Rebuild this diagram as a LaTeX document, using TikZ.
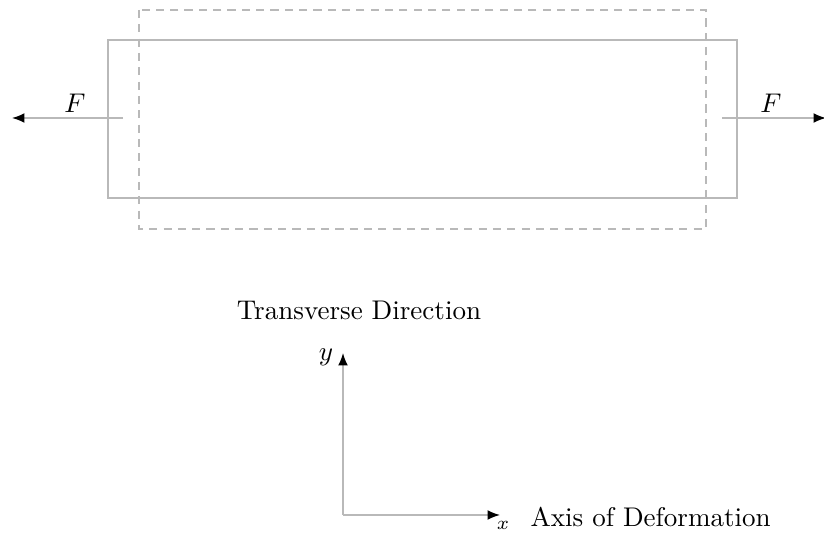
\documentclass[tikz,border=0pt]{standalone}
\usepackage{amsmath, amssymb}
\usepackage{tikz}
\usetikzlibrary{arrows.meta}

\tikzset{
  bar/.style={draw=gray!55, line width=0.5pt},
  force/.style={gray!55, line width=0.5pt, -{Latex[black, length=4.6pt, width=3.6pt]}}
}

\begin{document}
\begin{tikzpicture}[x=0.37pt, y=-0.37pt]
      \useasboundingbox (0,0) rectangle (824,533);

      % bar before and after loading
      \draw[bar] (108,40) rectangle (737,198);
      \draw[bar, dashed, dash pattern=on 3pt off 2.3pt] (139,10) rectangle (706,229);

      % applied loads
      \coordinate (l0) at (123,118);
      \coordinate (l1) at (12,118);
      \coordinate (r0) at (722,118);
      \coordinate (r1) at (826,118);
      \node (fl) at (75,103){\(F\)};
      \node (fr) at (771,103){\(F\)};
      \draw[force] (l0) -- (l1);
      \draw[force] (r0) -- (r1);

      % axes
      \coordinate (o) at (343,515);
      \coordinate (ytip) at (343,353);
      \coordinate (xtip) at (500,515);
      \draw[force] (o) -- (ytip);
      \draw[force] (o) -- (xtip);
      \node (y) at (326,357){\(y\)};
      \node (x) at (503,525){\(\scriptstyle x\)};
      \node (td) at (359,310){Transverse Direction};
      \node[anchor=west] (ad) at (521,517){Axis of Deformation};
    \end{tikzpicture}
\end{document}
